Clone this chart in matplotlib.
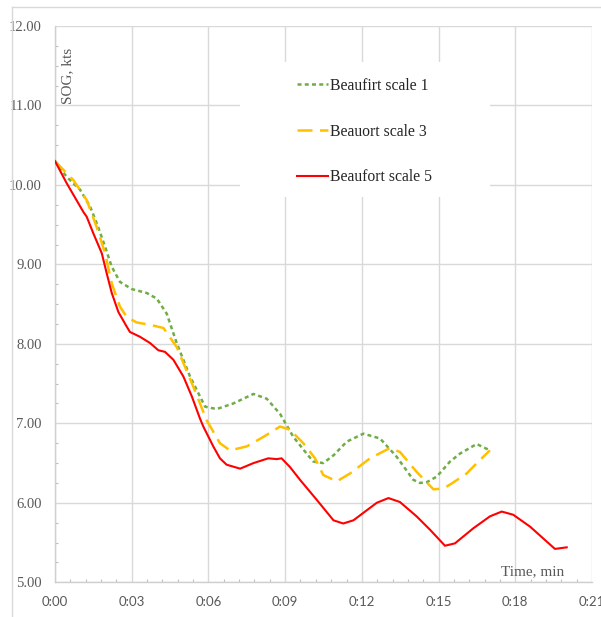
import matplotlib
matplotlib.use('Agg')
import matplotlib.pyplot as plt
from matplotlib.ticker import MultipleLocator, FuncFormatter
from matplotlib.patches import Rectangle
from matplotlib.lines import Line2D

# ---- data (time in minutes, SOG in knots) ----
t_b1 = [0, 0.46, 0.98, 1.37, 1.69, 1.96, 2.22, 2.54, 3.0, 3.59, 3.98, 4.37, 4.76, 5.28, 5.87,
        6.32, 6.97, 7.76, 8.28, 8.80, 9.32, 9.84, 10.10, 10.49, 10.90, 11.41, 12.06, 12.71,
        13.36, 14.01, 14.27, 14.54, 14.93, 15.45, 15.84, 16.49, 17.01]
v_b1 = [10.30, 10.10, 9.94, 9.73, 9.47, 9.22, 8.97, 8.78, 8.69, 8.64, 8.57, 8.38, 8.01, 7.59, 7.21,
        7.18, 7.25, 7.37, 7.31, 7.12, 6.83, 6.62, 6.52, 6.50, 6.60, 6.77, 6.87, 6.81,
        6.58, 6.29, 6.25, 6.26, 6.33, 6.52, 6.62, 6.74, 6.66]

t_b3 = [0, 0.72, 1.24, 1.63, 1.96, 2.22, 2.54, 2.80, 3.19, 3.72, 4.24, 4.76, 5.41, 5.93, 6.45,
        6.84, 7.50, 8.15, 8.80, 9.19, 9.71, 10.17, 10.49, 11.02, 11.54, 12.32, 13.10, 13.49,
        14.14, 14.80, 15.19, 15.50, 16.10, 16.62, 17.01]
v_b3 = [10.30, 10.06, 9.81, 9.47, 9.14, 8.76, 8.47, 8.34, 8.27, 8.24, 8.20, 7.96, 7.46, 7.04, 6.75,
        6.66, 6.71, 6.83, 6.96, 6.92, 6.75, 6.56, 6.35, 6.27, 6.37, 6.56, 6.69, 6.64,
        6.39, 6.17, 6.18, 6.24, 6.37, 6.54, 6.66]

t_b5 = [0, 0.46, 1.11, 1.24, 1.50, 1.83, 2.02, 2.22, 2.48, 2.80, 2.93, 3.32, 3.72, 4.04, 4.30,
        4.63, 5.02, 5.35, 5.67, 5.80, 6.19, 6.45, 6.71, 7.24, 7.76, 8.34, 8.67, 8.86, 9.19,
        9.58, 10.23, 10.89, 11.27, 11.67, 12.58, 13.04, 13.49, 14.14, 14.67, 15.25, 15.64,
        16.36, 17.01, 17.47, 17.92, 18.58, 19.10, 19.55, 20.01]
v_b5 = [10.30, 10.02, 9.66, 9.60, 9.39, 9.14, 8.89, 8.64, 8.40, 8.22, 8.15, 8.09, 8.01, 7.92, 7.90,
        7.80, 7.59, 7.34, 7.06, 6.96, 6.71, 6.56, 6.48, 6.43, 6.50, 6.56, 6.55, 6.56, 6.45,
        6.29, 6.04, 5.78, 5.74, 5.78, 6.00, 6.06, 6.01, 5.83, 5.66, 5.46, 5.49,
        5.68, 5.83, 5.89, 5.85, 5.70, 5.55, 5.42, 5.44]

labels = ["Beaufirt scale 1", "Beauort scale 3", "Beaufort scale 5"]
colors = ["#70AD47", "#FFC000", "#FF0000"]

W, H = 601, 617
fig = plt.figure(figsize=(W / 100, H / 100), dpi=100)
ax = fig.add_axes([55 / W, 1 - 582.3 / H, (592 - 55) / W, (582.3 - 26) / H])

ax.set_xlim(0, 21)
ax.set_ylim(5, 12)

grid_c = "#D9D9D9"
ax.xaxis.set_major_locator(MultipleLocator(3))
ax.xaxis.set_minor_locator(MultipleLocator(0.6))
ax.yaxis.set_major_locator(MultipleLocator(1))
ax.yaxis.set_minor_locator(MultipleLocator(0.25))
ax.xaxis.set_major_formatter(FuncFormatter(lambda v, p: "0:%02d" % int(round(v))))
ax.yaxis.set_major_formatter(FuncFormatter(lambda v, p: "%.2f" % v))
ax.grid(True, which='major', color=grid_c, linewidth=1.0)
ax.set_axisbelow(True)
for s in ['top', 'right']:
    ax.spines[s].set_visible(False)
for s in ['left', 'bottom']:
    ax.spines[s].set_color("#CFCFCF")
    ax.spines[s].set_linewidth(1.0)
ax.tick_params(which='major', length=0)
ax.tick_params(axis='x', which='major', pad=10, labelcolor="#595959", labelsize=9.5)
ax.tick_params(axis='y', which='major', pad=9.5, labelcolor="#595959", labelsize=10.5)
ax.tick_params(which='minor', direction='in', length=2.5, color="#BFBFBF", width=0.8)
for lb in ax.get_xticklabels():
    lb.set_fontfamily("Lato")
for lb in ax.get_yticklabels():
    lb.set_fontfamily("Liberation Serif")

ax.plot(t_b1, v_b1, color=colors[0], lw=1.8, dashes=(1.6, 1.3), label=labels[0], zorder=3)
ax.plot(t_b3, v_b3, color=colors[1], lw=1.8, dashes=(6.0, 3.0), label=labels[1], zorder=3)
ax.plot(t_b5, v_b5, color=colors[2], lw=1.5, label=labels[2], zorder=4)

# white legend backdrop
ax.add_patch(Rectangle((240 / W, 1 - 197 / H), 250 / W, 135 / H, transform=fig.transFigure,
                       facecolor='white', edgecolor='none', zorder=1.5))
leg = ax.legend(loc='upper left', bbox_to_anchor=(289 / W, 1 - 70 / H),
                bbox_transform=fig.transFigure, frameon=False, borderpad=0,
                handlelength=2.0, handletextpad=0.1, labelspacing=1.89,
                prop={'family': 'Liberation Serif', 'size': 11.3})
for txt in leg.get_texts():
    txt.set_color("#262626")

ax.text(68 / W, 1 - 76 / H, "SOG, kts", transform=fig.transFigure, rotation=90,
        ha='center', va='center', family='Liberation Serif', size=11, color="#595959")
ax.text(564 / W, 1 - 572 / H, "Time, min", transform=fig.transFigure,
        ha='right', va='center', family='Liberation Serif', size=11, color="#595959")

# outer chart frame (left and top edges visible)
fig.add_artist(Line2D([12 / W, 12 / W], [0, 1 - 7 / H], transform=fig.transFigure,
                      color="#D9D9D9", lw=1.0))
fig.add_artist(Line2D([12 / W, 1], [1 - 7 / H, 1 - 7 / H], transform=fig.transFigure,
                      color="#D9D9D9", lw=1.0))

fig.savefig("out.png", dpi=100)
